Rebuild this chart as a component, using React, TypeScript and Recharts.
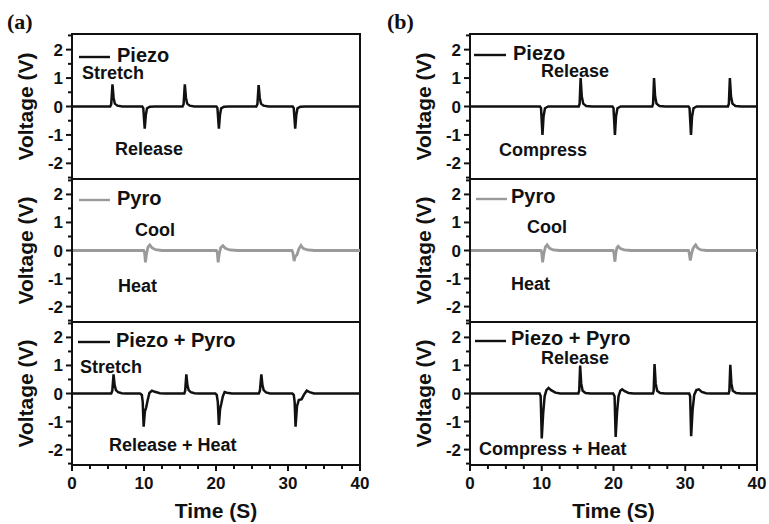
import React from 'react';
import { LineChart, Line, XAxis, YAxis, ReferenceArea } from 'recharts';

type Pt = [number, number];

// ---------- data (time s, voltage V) ----------
const piezoA: Pt[] = [
  [0, 0], [5.3, 0], [5.45, 0.08], [5.62, 0.78], [5.78, 0.3], [5.95, 0.1], [6.3, 0.03], [7, 0],
  [9.75, 0], [9.9, -0.06], [10.1, -0.78], [10.25, -0.3], [10.42, -0.06], [10.8, -0.01], [11.5, 0],
  [15.35, 0], [15.5, 0.08], [15.67, 0.78], [15.83, 0.3], [16.0, 0.1], [16.35, 0.03], [17, 0],
  [20.05, 0], [20.2, -0.06], [20.4, -0.78], [20.55, -0.3], [20.72, -0.06], [21.1, -0.01], [21.8, 0],
  [25.6, 0], [25.75, 0.08], [25.92, 0.75], [26.08, 0.3], [26.25, 0.1], [26.6, 0.03], [27.3, 0],
  [30.65, 0], [30.8, -0.06], [31.0, -0.78], [31.15, -0.3], [31.32, -0.06], [31.7, -0.01], [32.4, 0],
  [40, 0],
];

const pyroA: Pt[] = [
  [0, 0], [9.95, 0], [10.08, -0.08], [10.2, -0.42], [10.35, -0.12], [10.55, 0.12], [10.8, 0.2], [11.1, 0.1], [11.6, 0.03], [12.5, 0],
  [20.05, 0], [20.18, -0.08], [20.3, -0.42], [20.45, -0.12], [20.65, 0.1], [20.95, 0.17], [21.3, 0.08], [21.9, 0.02], [23, 0],
  [30.55, 0], [30.68, -0.08], [30.85, -0.38], [31.0, -0.22], [31.25, -0.15], [31.5, 0.05], [31.8, 0.18], [32.1, 0.08], [32.7, 0.02], [33.7, 0],
  [40, 0],
];

const piezoPyroA: Pt[] = [
  [0, 0], [5.45, 0], [5.6, 0.1], [5.77, 0.68], [5.92, 0.3], [6.1, 0.12], [6.4, 0.05], [6.9, 0.01], [7.5, 0],
  [9.45, 0], [9.7, -0.05], [9.82, -0.3], [9.95, -1.18], [10.12, -0.65], [10.3, -0.5], [10.5, -0.25], [10.75, 0.02], [11.1, 0.1], [11.5, 0.06], [12.2, 0.01], [13, 0],
  [15.6, 0], [15.72, 0.1], [15.88, 0.68], [16.03, 0.3], [16.2, 0.12], [16.5, 0.05], [17, 0.01], [17.6, 0],
  [19.9, 0], [20.1, -0.05], [20.25, -0.3], [20.4, -1.12], [20.57, -0.55], [20.75, -0.35], [20.95, -0.1], [21.2, 0.05], [21.5, 0.03], [22.2, 0],
  [25.95, 0], [26.1, 0.1], [26.3, 0.68], [26.45, 0.3], [26.62, 0.12], [26.95, 0.04], [27.5, 0],
  [30.6, 0], [30.8, -0.05], [30.92, -0.3], [31.05, -1.18], [31.25, -0.45], [31.5, -0.23], [31.9, -0.2], [32.2, -0.05], [32.6, 0.1], [33, 0.05], [33.6, 0],
  [40, 0],
];

const piezoB: Pt[] = [
  [0, 0], [9.75, 0], [9.9, -0.06], [10.1, -1.0], [10.25, -0.35], [10.45, -0.06], [10.9, 0],
  [15.15, 0], [15.28, 0.1], [15.42, 1.0], [15.58, 0.35], [15.78, 0.1], [16.2, 0.02], [17, 0],
  [19.85, 0], [20.0, -0.06], [20.2, -1.0], [20.35, -0.35], [20.55, -0.06], [21.0, 0],
  [25.4, 0], [25.52, 0.1], [25.65, 1.0], [25.8, 0.35], [26.0, 0.1], [26.4, 0.02], [27.2, 0],
  [30.45, 0], [30.6, -0.06], [30.8, -1.0], [30.95, -0.35], [31.15, -0.06], [31.6, 0],
  [35.95, 0], [36.08, 0.1], [36.22, 1.0], [36.38, 0.35], [36.58, 0.1], [37, 0.02], [37.8, 0],
  [40, 0],
];

const pyroB: Pt[] = [
  [0, 0], [9.9, 0], [10.0, -0.08], [10.12, -0.42], [10.3, -0.1], [10.5, 0.12], [10.75, 0.2], [11.1, 0.08], [11.6, 0.02], [12.5, 0],
  [19.95, 0], [20.05, -0.08], [20.2, -0.4], [20.32, -0.1], [20.48, 0.1], [20.65, 0.15], [20.95, 0.07], [21.5, 0.02], [22.4, 0],
  [30.45, 0], [30.55, -0.08], [30.7, -0.36], [30.85, -0.15], [31.05, 0.05], [31.25, 0.14], [31.45, 0.2], [31.75, 0.08], [32.2, 0.02], [33, 0],
  [40, 0],
];

const piezoPyroB: Pt[] = [
  [0, 0], [9.7, 0], [9.85, -0.1], [10.0, -1.6], [10.2, -0.7], [10.4, -0.1], [10.65, 0.12], [10.95, 0.2], [11.3, 0.12], [11.9, 0.03], [12.6, 0],
  [15.1, 0], [15.22, 0.1], [15.35, 1.0], [15.5, 0.35], [15.7, 0.1], [16.1, 0.02], [16.8, 0],
  [19.95, 0], [20.15, -0.1], [20.3, -1.55], [20.5, -0.65], [20.7, -0.1], [20.95, 0.1], [21.2, 0.15], [21.55, 0.08], [22.1, 0.02], [22.8, 0],
  [25.5, 0], [25.6, 0.1], [25.72, 1.05], [25.88, 0.35], [26.08, 0.1], [26.5, 0.02], [27.2, 0],
  [30.55, 0], [30.68, -0.1], [30.82, -1.52], [31.02, -0.6], [31.25, -0.05], [31.55, 0.12], [31.9, 0.15], [32.3, 0.06], [32.9, 0.01], [33.6, 0],
  [36.05, 0], [36.15, 0.1], [36.28, 1.02], [36.43, 0.35], [36.63, 0.1], [37.1, 0.02], [37.8, 0],
  [40, 0],
];

// ---------- ticks ----------
const xTicks = [0, 2.5, 5, 7.5, 10, 12.5, 15, 17.5, 20, 22.5, 25, 27.5, 30, 32.5, 35, 37.5, 40];
const xLabels = [0, 10, 20, 30, 40];
const yTicks = [-2.5, -2, -1.5, -1, -0.5, 0, 0.5, 1, 1.5, 2, 2.5];
const yLabels = [-2, -1, 0, 1, 2];
const xDomain: [number, number] = [0, 40];
const yDomain: [number, number] = [-2.55, 2.55];

// ---------- layout / style ----------
const SANS = '"Liberation Sans", Arial, Helvetica, sans-serif';
const SERIF = '"Liberation Serif", "Times New Roman", serif';
const INK = '#111';
const GRAY = '#9a9a9a';

const COLS = [
  { left: 0, width: 370, yw: 72, right: 10 },
  { left: 380, width: 389, yw: 90, right: 12 },
];
const ROWS = [
  { top: 34, h: 145 },
  { top: 179, h: 143 },
  { top: 322, h: 143 },
];
const M_TOP = 4;
const X_AXIS_H = 59;

const XTick = (props: any) => {
  const { x, y, payload } = props;
  const v = payload.value as number;
  const major = xLabels.includes(v);
  const y0 = y - 8;
  return (
    <g>
      <line x1={x} x2={x} y1={y0} y2={y0 + (major ? 6 : 4)} stroke={INK} strokeWidth={2} />
      {major && (
        <text x={x} y={y0 + 24} textAnchor="middle" fontFamily={SANS} fontWeight="bold" fontSize={17} fill={INK}>
          {v}
        </text>
      )}
    </g>
  );
};

const YTick = (props: any) => {
  const { x, y, payload } = props;
  const v = payload.value as number;
  const major = yLabels.includes(v);
  const x0 = x + 9;
  return (
    <g>
      <line x1={x0 - (major ? 6 : 4)} x2={x0} y1={y} y2={y} stroke={INK} strokeWidth={2} />
      {major && (
        <text x={x0 - 9} y={y + 6} textAnchor="end" fontFamily={SANS} fontWeight="bold" fontSize={17} fill={INK}>
          {v}
        </text>
      )}
    </g>
  );
};

type PanelProps = { series: Pt[]; color: string; col: number; row: number };

function Panel({ series, color, col, row }: PanelProps) {
  const c = COLS[col];
  const r = ROWS[row];
  const withX = row === 2;
  const height = M_TOP + r.h + (withX ? X_AXIS_H : 4);
  const data = series.map(([t, v]) => ({ t, v }));
  return (
    <div style={{ position: 'absolute', left: c.left, top: r.top - M_TOP, width: c.width, height }}>
      <LineChart
        width={c.width}
        height={height}
        data={data}
        margin={{ top: M_TOP, right: c.right, bottom: withX ? 0 : 4, left: 0 }}
      >
        <XAxis
          dataKey="t"
          type="number"
          domain={xDomain}
          allowDataOverflow
          ticks={xTicks}
          interval={0}
          hide={!withX}
          height={withX ? X_AXIS_H : 0}
          axisLine={{ stroke: INK, strokeWidth: 2 }}
          tickLine={false}
          tickSize={6}
          tickMargin={2}
          tick={<XTick />}
        />
        <YAxis
          type="number"
          domain={yDomain}
          allowDataOverflow
          ticks={yTicks}
          interval={0}
          width={c.yw}
          axisLine={{ stroke: INK, strokeWidth: 2 }}
          tickLine={false}
          tickSize={6}
          tickMargin={3}
          tick={<YTick />}
        />
        <ReferenceArea
          x1={xDomain[0]}
          x2={xDomain[1]}
          y1={yDomain[0]}
          y2={yDomain[1]}
          fill="none"
          fillOpacity={0}
          stroke={INK}
          strokeWidth={2}
          ifOverflow="visible"
        />
        <Line
          dataKey="v"
          type="linear"
          stroke={color}
          strokeWidth={color === GRAY ? 2.8 : 2.5}
          dot={false}
          activeDot={false}
          isAnimationActive={false}
        />
      </LineChart>
    </div>
  );
}

// legend + annotation placement (pixels relative to plot's top-left)
type Note = { text: string; dx: number; dy: number };
type PanelText = {
  col: number; row: number; name: string; color: string;
  lineY: number; textY: number; lineX0: number; lineX1: number; textX: number;
  notes: Note[];
};

const PANEL_TEXT: PanelText[] = [
  { col: 0, row: 0, name: 'Piezo', color: INK, lineY: 23, textY: 28, lineX0: 7, lineX1: 38, textX: 45,
    notes: [{ text: 'Stretch', dx: 10, dy: 45 }, { text: 'Release', dx: 43, dy: 121 }] },
  { col: 0, row: 1, name: 'Pyro', color: GRAY, lineY: 21, textY: 26, lineX0: 7, lineX1: 38, textX: 45,
    notes: [{ text: 'Cool', dx: 63, dy: 57 }, { text: 'Heat', dx: 46, dy: 113 }] },
  { col: 0, row: 2, name: 'Piezo + Pyro', color: INK, lineY: 20, textY: 25, lineX0: 6, lineX1: 38, textX: 44,
    notes: [{ text: 'Stretch', dx: 8, dy: 51 }, { text: 'Release + Heat', dx: 37, dy: 129 }] },
  { col: 1, row: 0, name: 'Piezo', color: INK, lineY: 21, textY: 26, lineX0: 4, lineX1: 36, textX: 43,
    notes: [{ text: 'Release', dx: 71, dy: 43 }, { text: 'Compress', dx: 29, dy: 122 }] },
  { col: 1, row: 1, name: 'Pyro', color: GRAY, lineY: 20, textY: 24, lineX0: 6, lineX1: 37, textX: 41,
    notes: [{ text: 'Cool', dx: 57, dy: 54 }, { text: 'Heat', dx: 41, dy: 111 }] },
  { col: 1, row: 2, name: 'Piezo + Pyro', color: INK, lineY: 19, textY: 23, lineX0: 5, lineX1: 36, textX: 41,
    notes: [{ text: 'Release', dx: 71, dy: 42 }, { text: 'Compress + Heat', dx: 9, dy: 133 }] },
];

const panelLetters = ['(a)', '(b)'];

function Overlay() {
  return (
    <svg width={769} height={524} style={{ position: 'absolute', left: 0, top: 0, pointerEvents: 'none' }}>
      {panelLetters.map((t, i) => (
        <text key={t} x={COLS[i].left + 7} y={29} fontFamily={SERIF} fontWeight="bold" fontSize={22} fill={INK}>
          {t}
        </text>
      ))}
      {COLS.map((c, ci) => {
        const plotL = c.left + c.yw;
        const plotR = c.left + c.width - c.right;
        return (
          <g key={`col${ci}`}>
            {ROWS.map((r, ri) => {
              const cy = r.top + r.h / 2;
              const cx = plotL - 47;
              return (
                <text
                  key={`v${ri}`}
                  x={cx}
                  y={cy}
                  transform={`rotate(-90, ${cx}, ${cy})`}
                  textAnchor="middle"
                  dominantBaseline="central"
                  fontFamily={SANS}
                  fontWeight="bold"
                  fontSize={21}
                  fill={INK}
                >
                  Voltage (V)
                </text>
              );
            })}
            <text
              x={(plotL + plotR) / 2}
              y={ROWS[2].top + ROWS[2].h + 53}
              textAnchor="middle"
              fontFamily={SANS}
              fontWeight="bold"
              fontSize={21}
              fill={INK}
            >
              Time (S)
            </text>
          </g>
        );
      })}
      {PANEL_TEXT.map((p, i) => {
        const c = COLS[p.col];
        const r = ROWS[p.row];
        const ox = c.left + c.yw;
        const oy = r.top;
        return (
          <g key={`pt${i}`}>
            <line x1={ox + p.lineX0} x2={ox + p.lineX1} y1={oy + p.lineY} y2={oy + p.lineY} stroke={p.color} strokeWidth={2.4} />
            <text x={ox + p.textX} y={oy + p.textY} fontFamily={SANS} fontWeight="bold" fontSize={20} fill={INK}>
              {p.name}
            </text>
            {p.notes.map((n) => (
              <text key={n.text} x={ox + n.dx} y={oy + n.dy} fontFamily={SANS} fontWeight="bold" fontSize={18} fill={INK}>
                {n.text}
              </text>
            ))}
          </g>
        );
      })}
    </svg>
  );
}

export default function App() {
  return (
    <div style={{ position: 'absolute', left: 0, top: 0, width: 769, height: 524, background: '#fff', overflow: 'hidden' }}>
      <Panel series={piezoA} color={INK} col={0} row={0} />
      <Panel series={pyroA} color={GRAY} col={0} row={1} />
      <Panel series={piezoPyroA} color={INK} col={0} row={2} />
      <Panel series={piezoB} color={INK} col={1} row={0} />
      <Panel series={pyroB} color={GRAY} col={1} row={1} />
      <Panel series={piezoPyroB} color={INK} col={1} row={2} />
      <Overlay />
    </div>
  );
}
